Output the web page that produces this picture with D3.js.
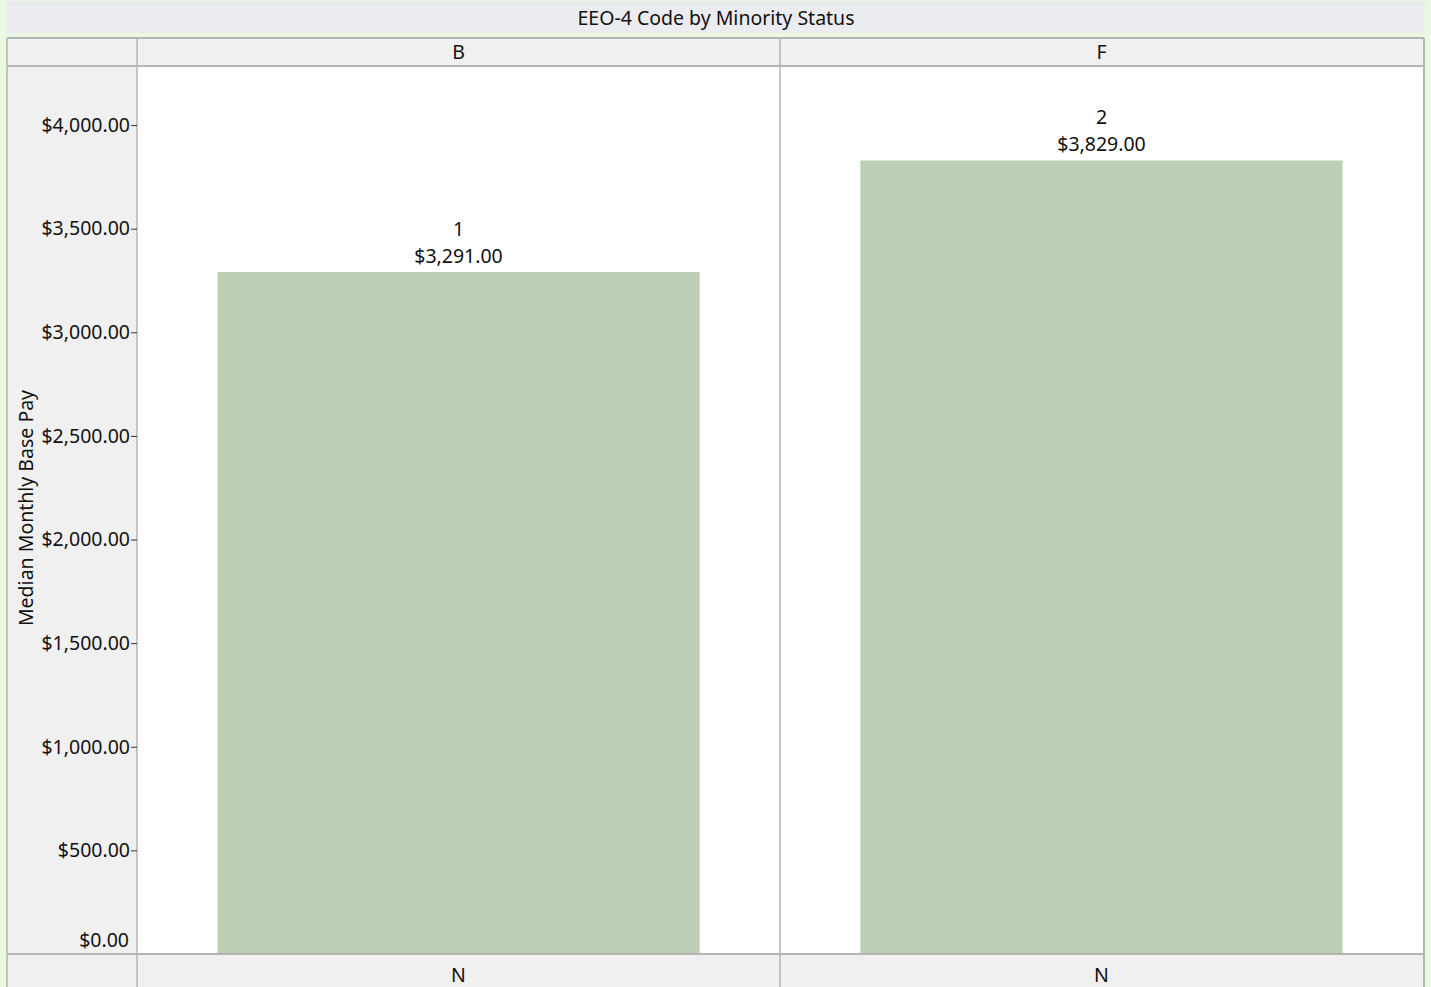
<!DOCTYPE html>
<html><head><meta charset="utf-8">
<script src="https://cdn.jsdelivr.net/npm/d3@7"></script>
<style>
html,body{margin:0;padding:0;background:#eaf7e2;}
svg{display:block;font-family:"Segoe UI","Noto Sans","Open Sans",sans-serif;}
</style></head><body>
<svg id="c" width="1431" height="987"></svg>
<script>
const title = "EEO-4 Code by Minority Status";
const panels = ["B", "F"];
const bottomLabels = ["N", "N"];
const counts = ["1", "2"];
const values = [3291, 3829];
const yTicks = [0, 500, 1000, 1500, 2000, 2500, 3000, 3500, 4000];
const yTitle = "Median Monthly Base Pay";

const svg = d3.select("#c");
const L = 7, R = 1424, T = 38, leftW = 137, headerB = 66, plotB = 954, H = 987;
const fmt = v => "$" + d3.format(",.2f")(v);
const FS = 19.5;

// title band
svg.append("rect").attr("x", 6).attr("y", 1).attr("width", 1419).attr("height", 32).attr("fill", "#ebecf0");
svg.append("text").attr("x", 716).attr("y", 25).attr("text-anchor", "middle").attr("font-size", FS).attr("fill", "#111").text(title);

// frame backgrounds
svg.append("rect").attr("x", L).attr("y", T).attr("width", R - L).attr("height", H - T).attr("fill", "#f0f0f0");

const xPanel = d3.scaleBand().domain(panels).range([leftW, R - 1]);
const y = d3.scaleLinear().domain([0, 4285]).range([plotB, headerB]);

// plot areas
panels.forEach((p, i) => {
  const x0 = xPanel(p), w = xPanel.bandwidth();
  svg.append("rect").attr("x", x0).attr("y", headerB).attr("width", w).attr("height", plotB - headerB).attr("fill", "#fff");
  const xb = d3.scaleBand().domain([p]).range([x0, x0 + w]).paddingInner(0.25).paddingOuter(0.125);
  svg.append("rect").attr("x", xb(p)).attr("y", y(values[i])).attr("width", xb.bandwidth())
    .attr("height", y(0) - y(values[i])).attr("fill", "#bccfb4");
  const cx = x0 + w / 2;
  svg.append("text").attr("x", cx).attr("y", y(values[i]) - 36).attr("text-anchor", "middle").attr("font-size", FS).attr("fill", "#111").text(counts[i]);
  svg.append("text").attr("x", cx).attr("y", y(values[i]) - 9).attr("text-anchor", "middle").attr("font-size", FS).attr("fill", "#111").text(fmt(values[i]));
  svg.append("text").attr("x", cx).attr("y", 59).attr("text-anchor", "middle").attr("font-size", FS).attr("fill", "#111").text(p);
  svg.append("text").attr("x", cx).attr("y", 982).attr("text-anchor", "middle").attr("font-size", FS).attr("fill", "#111").text(bottomLabels[i]);
});

// grid lines
const lineC = "#b4b4b4";
const ln = (x1, y1, x2, y2, w = 1.5) => svg.append("line").attr("x1", x1).attr("y1", y1).attr("x2", x2).attr("y2", y2).attr("stroke", lineC).attr("stroke-width", w);
ln(L, T, R, T, 2);
ln(L, headerB, R, headerB, 2);
ln(L, plotB, R, plotB, 2);
ln(L, T, L, H, 1.5);
ln(R, T, R, H, 2);
ln(leftW, T, leftW, H, 1.5);
ln(xPanel("F"), T, xPanel("F"), H, 1.5);

// y axis
const ax = svg.append("g").attr("transform", `translate(${leftW},0)`)
  .call(d3.axisLeft(y).tickValues(yTicks).tickFormat(fmt).tickSize(6).tickPadding(1));
ax.select(".domain").remove();
ax.selectAll(".tick line").attr("stroke", "#333");
ax.selectAll(".tick text").attr("font-size", FS).attr("fill", "#111").attr("font-family", '"Segoe UI","Noto Sans","Open Sans",sans-serif');
ax.selectAll(".tick").filter(d => d === 0).select("line").remove();
ax.selectAll(".tick").filter(d => d === 0).select("text").attr("x", -8).attr("dy", "-0.4em");

svg.append("text").attr("transform", "translate(33,508) rotate(-90)").attr("text-anchor", "middle")
  .attr("font-size", FS).attr("fill", "#111").text(yTitle);
</script>
</body></html>
